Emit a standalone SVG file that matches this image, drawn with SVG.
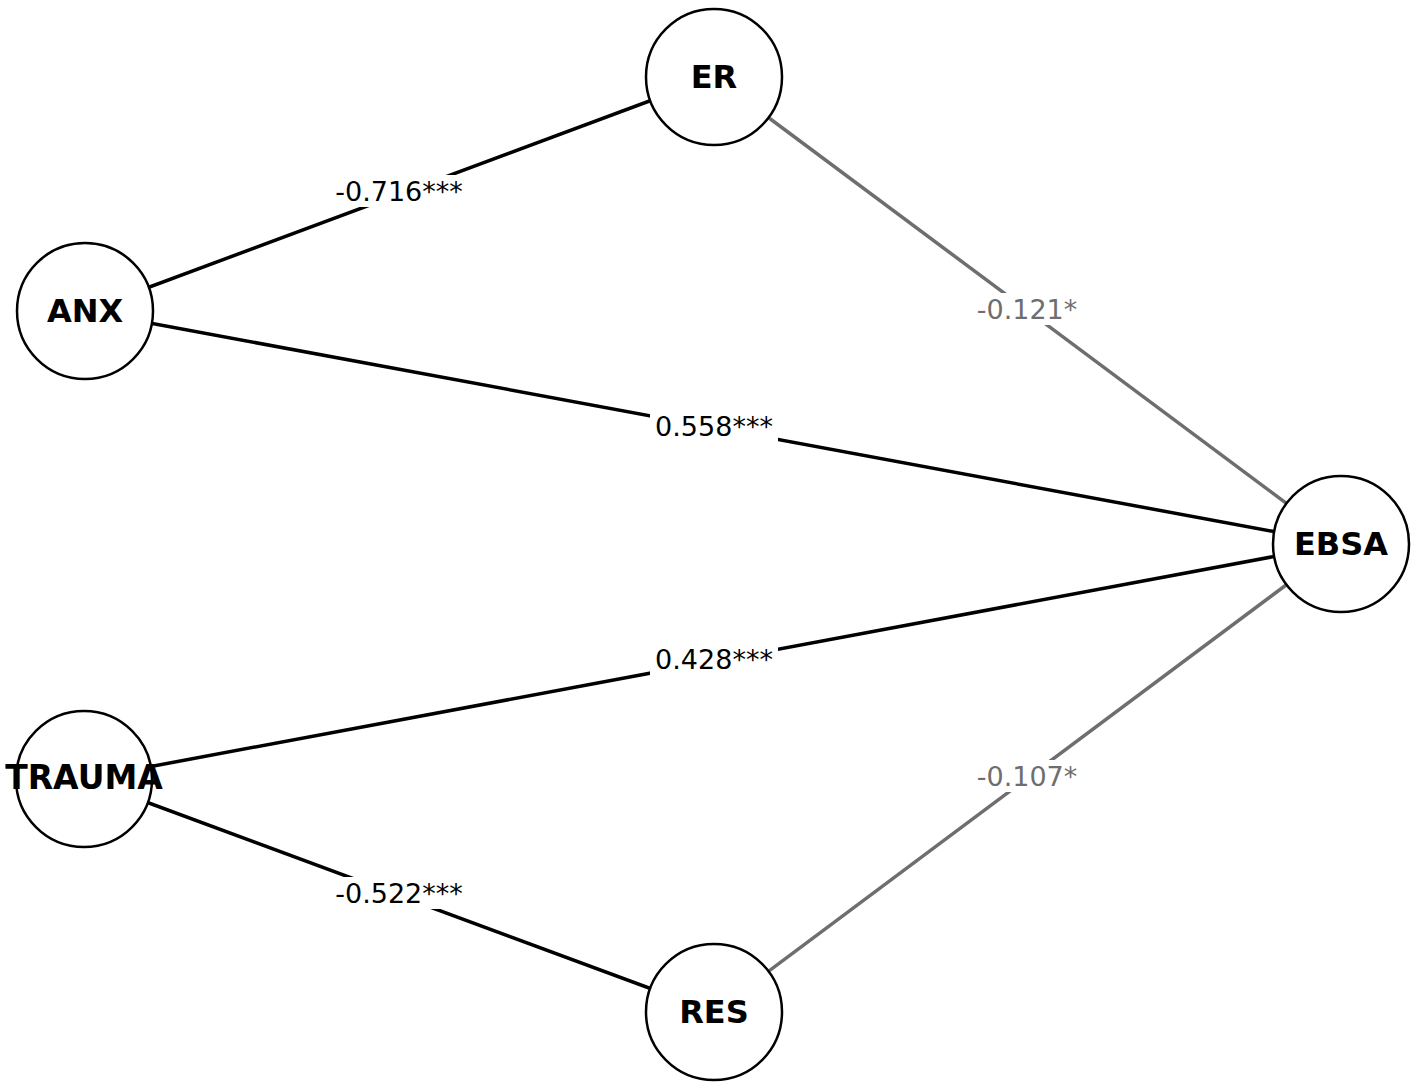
<svg xmlns="http://www.w3.org/2000/svg" width="1418" height="1091" viewBox="0 0 1418 1091">
<style>
.edge{stroke-width:3.5;fill:none}
.sig{stroke:#000}
.weak{stroke:#6e6e6e}
.node circle{fill:#fff;stroke:#000;stroke-width:2.5}
.node text{font-family:"DejaVu Sans",sans-serif;font-weight:bold;font-size:32px;text-anchor:middle;dominant-baseline:central;fill:#000}
.lbl rect{fill:#fff}
.lbl text{font-family:"DejaVu Sans",sans-serif;font-size:27px;text-anchor:middle;dominant-baseline:central}
.lbl.s text{fill:#000}
.lbl.w text{fill:#6e6e6e}
</style>
<rect width="1418" height="1091" fill="#fff"/>
<g id="connectors">
<line class="edge sig" x1="85" y1="311" x2="714" y2="77"/>
<line class="edge sig" x1="85" y1="311" x2="1341" y2="544"/>
<line class="edge sig" x1="84" y1="779" x2="1341" y2="544"/>
<line class="edge sig" x1="84" y1="779" x2="714" y2="1012"/>
<line class="edge weak" x1="714" y1="77" x2="1341" y2="544"/>
<line class="edge weak" x1="714" y1="1012" x2="1341" y2="544"/>
<g class="lbl s"><rect x="332" y="175" width="134" height="32"/><text x="399" y="191">-0.716***</text></g>
<g class="lbl w"><rect x="971" y="293" width="112" height="32"/><text x="1027" y="309">-0.121*</text></g>
<g class="lbl s"><rect x="650" y="410" width="128" height="32"/><text x="714" y="426">0.558***</text></g>
<g class="lbl s"><rect x="650" y="643" width="128" height="32"/><text x="714" y="659">0.428***</text></g>
<g class="lbl w"><rect x="971" y="760" width="112" height="32"/><text x="1027" y="776">-0.107*</text></g>
<g class="lbl s"><rect x="332" y="877" width="134" height="32"/><text x="399" y="893">-0.522***</text></g>
</g>
<g id="node-ER" class="node"><circle cx="714" cy="77" r="68"/><text x="714" y="77">ER</text></g>
<g id="node-ANX" class="node"><circle cx="85" cy="311" r="68"/><text x="85" y="311">ANX</text></g>
<g id="node-EBSA" class="node"><circle cx="1341" cy="544" r="68"/><text x="1341" y="544">EBSA</text></g>
<g id="node-TRAUMA" class="node"><circle cx="84" cy="779" r="68"/><text x="84" y="777" style="font-size:33px">TRAUMA</text></g>
<g id="node-RES" class="node"><circle cx="714" cy="1012" r="68"/><text x="714" y="1012">RES</text></g>
</svg>
